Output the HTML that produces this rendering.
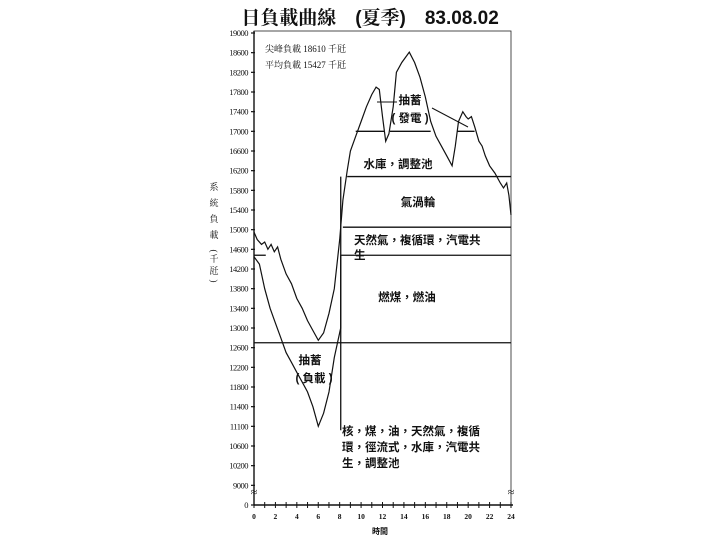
<!DOCTYPE html>
<html><head><meta charset="utf-8">
<style>
html,body{margin:0;padding:0;background:#fff;}
svg{display:block;}
text{font-family:"Liberation Serif","Noto Serif CJK SC","Noto Sans CJK TC",serif;fill:#111;}
.cj{font-family:"Liberation Sans","Noto Sans CJK TC",sans-serif;font-weight:bold;}
</style></head>
<body>
<svg id="chart" width="720" height="540" viewBox="0 0 720 540">
<text x="370" y="24" text-anchor="middle" font-size="19" font-weight="bold" style="font-family:'Liberation Sans','Noto Serif CJK SC',sans-serif">日負載曲線　(夏季)　83.08.02</text>
<g id="axes"></g>
<g id="bands"></g>
<g id="curves"></g>
<g id="labels">
<text x="265" y="52" font-size="9">尖峰負載 18610 千瓩</text>
<text x="265" y="68" font-size="9">平均負載 15427 千瓩</text>
<text class="cj" x="410" y="104" font-size="11.5" text-anchor="middle">抽蓄</text>
<text class="cj" x="410" y="122" font-size="11.5" text-anchor="middle">( 發電 )</text>
<text class="cj" x="398" y="168" font-size="11.5" text-anchor="middle">水庫，調整池</text>
<text class="cj" x="418" y="206" font-size="11.5" text-anchor="middle">氣渦輪</text>
<text class="cj" x="354" y="244" font-size="11.5">天然氣，複循環，汽電共</text>
<text class="cj" x="354" y="259" font-size="11.5">生</text>
<text class="cj" x="407" y="301" font-size="11.5" text-anchor="middle">燃煤，燃油</text>
<text class="cj" x="310" y="364" font-size="11.5" text-anchor="middle">抽蓄</text>
<text class="cj" x="314" y="382" font-size="11.5" text-anchor="middle">( 負載 )</text>
<text class="cj" x="342" y="435" font-size="11.5">核，煤，油，天然氣，複循</text>
<text class="cj" x="342" y="451" font-size="11.5">環，徑流式，水庫，汽電共</text>
<text class="cj" x="342" y="467" font-size="11.5">生，調整池</text>
<text class="cj" x="380" y="534" font-size="8" text-anchor="middle">時間</text>
<g font-size="9">
<text x="214" y="190" text-anchor="middle">系</text>
<text x="214" y="206" text-anchor="middle">統</text>
<text x="214" y="222" text-anchor="middle">負</text>
<text x="214" y="238" text-anchor="middle">載</text>
<text x="214" y="254" text-anchor="middle" transform="rotate(90 214 251)">(</text>
<text x="214" y="262" text-anchor="middle">千</text>
<text x="214" y="274" text-anchor="middle">瓩</text>
<text x="214" y="284" text-anchor="middle" transform="rotate(90 214 281)">)</text>
</g>
<line x1="377" y1="102" x2="397" y2="102" stroke="#111" stroke-width="1"/>
<line x1="432" y1="108" x2="468" y2="127" stroke="#111" stroke-width="1"/>
</g>
</svg>
<script>
const yTicks=[19000,18600,18200,17800,17400,17000,16600,16200,15800,15400,15000,14600,14200,13800,13400,13000,12600,12200,11800,11400,11100,10600,10200,9000,0];
const xTicks=[0,2,4,6,8,10,12,14,16,18,20,22,24];
const upperHours=[0,0.3,0.7,1,1.3,1.6,1.9,2.2,2.5,3,3.5,4,4.5,5,5.5,6,6.5,7,7.5,8,8.3,8.7,9,9.5,10,10.5,11,11.4,11.7,12,12.3,12.6,13,13.3,13.8,14.5,15,15.5,16,16.5,17,17.5,18,18.5,18.8,19.1,19.5,19.8,20,20.3,20.6,21,21.3,21.6,22,22.5,23,23.3,23.6,23.8,24];
const upperLoad=[14950,14800,14700,14750,14600,14700,14550,14650,14400,14100,13900,13600,13400,13150,12950,12750,12900,13300,13800,14800,15600,16200,16600,16900,17200,17500,17750,17900,17850,17300,16800,16950,17500,18200,18400,18610,18400,18100,17700,17200,16900,16700,16500,16300,16700,17200,17400,17300,17250,17300,17100,16800,16700,16500,16300,16150,15950,15850,15950,15700,15300];
const lowerHours=[0,0.5,1,1.5,2,2.5,3,3.5,4,4.5,5,5.5,6,6.5,7,7.5,8.1,8.1];
const lowerLoad=[14450,14300,13800,13400,13100,12800,12500,12300,12100,11900,11700,11400,11100,11300,11700,12400,13000,14480];
const bandLevels=[12700,14480,15050,16080,17000,17000,17000,14480];
const bandStart=[0,8.1,8.3,8.7,9.5,12.7,19,0];
const bandEnd=[24,24,24,24,12.2,16.5,20.6,1.1];
const ns="http://www.w3.org/2000/svg";
const X0=254,X1=511,YT=33,YB=505;
function xs(h){return X0+(X1-X0)*h/24;}
function ys(v){
  const step=(YB-YT)/(yTicks.length-1);
  for(let i=0;i<yTicks.length-1;i++){
    const a=yTicks[i],b=yTicks[i+1];
    if(v<=a&&v>=b){return YT+step*(i+(a-v)/(a-b));}
  }
  return v>yTicks[0]?YT:YB;
}
function mk(tag,attrs,parent){const e=document.createElementNS(ns,tag);for(const k in attrs)e.setAttribute(k,attrs[k]);parent.appendChild(e);return e;}
const axes=document.getElementById('axes');
let fr=mk('rect',{x:X0,y:31,width:X1-X0,height:YB-31,fill:'none',stroke:'#222','stroke-width':0.8},axes);


let yl=mk('line',{x1:X0,y1:31,x2:X0,y2:YB,stroke:'#111','stroke-width':1.4},axes);


let xl=mk('line',{x1:X0,y1:YB,x2:X1+2,y2:YB,stroke:'#111','stroke-width':1.6},axes);


yTicks.forEach(v=>{
  const y=ys(v);
  const t=mk('line',{x1:X0-3,y1:y,x2:X0+1,y2:y,stroke:'#111','stroke-width':1.2},axes);
  
  
  const tx=mk('text',{x:X0-6,y:y+3,'font-size':8.5,'text-anchor':'end','letter-spacing':'-0.5'},axes);
  tx.textContent=v;
  
  
});
for(let h=0;h<=24;h++){
  const x=xs(h);
  const t=mk('line',{x1:x,y1:YB-3,x2:x,y2:YB+3,stroke:'#111','stroke-width':1},axes);
  
  
}
xTicks.forEach(h=>{
  const tx=mk('text',{x:xs(h),y:YB+14,'font-size':7.5,'text-anchor':'middle','font-weight':'bold'},axes);
  tx.textContent=h;
  
  
});
[[X0,492],[X1,492]].forEach(p=>{
  const b=mk('text',{x:p[0],y:p[1]+4,'font-size':12,'text-anchor':'middle'},axes);
  b.textContent='≈';
  
  
});
const bands=document.getElementById('bands');
bandLevels.forEach((v,i)=>{
  const l=mk('line',{x1:xs(bandStart[i]),y1:ys(v),x2:xs(bandEnd[i]),y2:ys(v),stroke:'#111','stroke-width':1.3},bands);
  
  
});
let vl=mk('line',{x1:xs(8.1),y1:ys(11000),x2:xs(8.1),y2:ys(16080),stroke:'#111','stroke-width':1.3},bands);


const curves=document.getElementById('curves');
function path(hs,vs){return hs.map((h,i)=>(i?'L':'M')+xs(h).toFixed(1)+' '+ys(vs[i]).toFixed(1)).join(' ');}
let up=mk('path',{d:path(upperHours,upperLoad),fill:'none',stroke:'#111','stroke-width':1.2},curves);


let lo=mk('path',{d:path(lowerHours,lowerLoad),fill:'none',stroke:'#111','stroke-width':1.2},curves);


</script>
</body></html>
